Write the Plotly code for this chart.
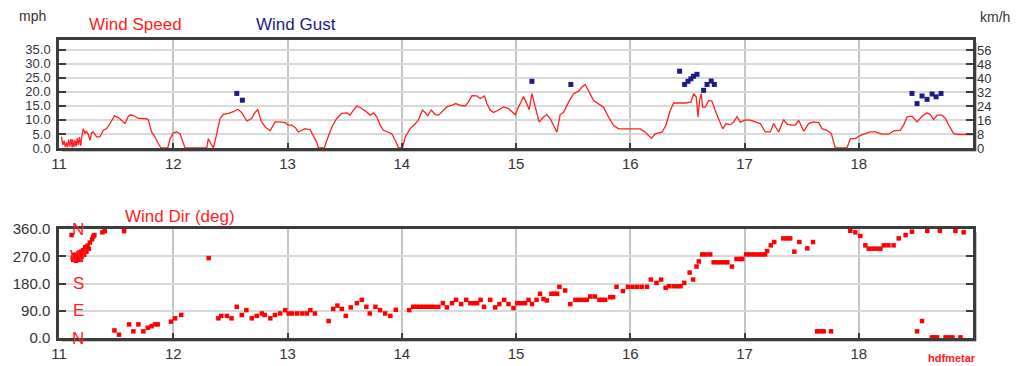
import plotly.graph_objects as go

# ---------------- data ----------------
speed_day = [11.02, 11.035, 11.045, 11.055, 11.065, 11.075, 11.085, 11.095, 11.105, 11.115, 11.12, 11.13, 11.14, 11.15,
             11.16, 11.17, 11.18, 11.19, 11.199, 11.213, 11.228, 11.24, 11.257, 11.271, 11.285, 11.30, 11.33, 11.359,
             11.388, 11.417, 11.447, 11.485, 11.52, 11.549, 11.578, 11.607, 11.63, 11.665, 11.695, 11.768, 11.782,
             11.81, 11.84, 11.87, 11.893, 11.952, 11.972, 12.001, 12.03, 12.06, 12.089, 12.103, 12.293, 12.307,
             12.331, 12.351, 12.381, 12.41, 12.439, 12.483, 12.527, 12.565, 12.6, 12.644, 12.687, 12.71, 12.74,
             12.769, 12.804, 12.848, 12.891, 12.935, 12.979, 13.008, 13.037, 13.067, 13.096, 13.125, 13.154, 13.198,
             13.227, 13.256, 13.271, 13.323, 13.344, 13.388, 13.431, 13.475, 13.519, 13.548, 13.577, 13.607, 13.636,
             13.68, 13.723, 13.753, 13.782, 13.811, 13.84, 13.884, 13.913, 13.957, 13.971, 14.006, 14.03, 14.074,
             14.117, 14.147, 14.182, 14.205, 14.228, 14.258, 14.293, 14.322, 14.351, 14.395, 14.438, 14.473, 14.511,
             14.555, 14.584, 14.614, 14.657, 14.687, 14.724, 14.745, 14.774, 14.803, 14.847, 14.891, 14.935, 14.964,
             14.993, 15.022, 15.066, 15.095, 15.116, 15.139, 15.168, 15.203, 15.241, 15.27, 15.3, 15.329, 15.358,
             15.387, 15.416, 15.46, 15.504, 15.548, 15.577, 15.606, 15.635, 15.679, 15.723, 15.766, 15.81, 15.854,
             15.898, 16.088, 16.131, 16.184, 16.219, 16.277, 16.312, 16.35, 16.38, 16.482, 16.531, 16.555, 16.578,
             16.593, 16.607, 16.622, 16.633, 16.657, 16.686, 16.715, 16.744, 16.779, 16.809, 16.838, 16.876, 16.905,
             16.934, 16.963, 17.007, 17.051, 17.095, 17.138, 17.182, 17.226, 17.255, 17.299, 17.343, 17.372, 17.416,
             17.445, 17.474, 17.518, 17.562, 17.605, 17.649, 17.678, 17.722, 17.76, 17.78, 17.795, 17.897, 17.926,
             17.97, 18.014, 18.058, 18.102, 18.145, 18.204, 18.262, 18.306, 18.364, 18.393, 18.423, 18.466, 18.51,
             18.554, 18.598, 18.627, 18.656, 18.685, 18.729, 18.758, 18.788, 18.831, 18.875, 18.977, 19.0]
speed_mph = [4.0, 1.0, 2.6, 0.3, 2.0, 0.2, 3.0, 0.5, 3.2, 0.2, 3.0, 0.3, 2.8, 0.5,
             3.5, 1.0, 3.9, 0.8, 3.9, 6.9, 5.1, 6.0, 4.8, 2.7, 5.4, 5.7, 3.9, 4.0,
             6.3, 6.9, 8.7, 11.4, 10.8, 9.9, 8.7, 11.3, 11.8, 11.3, 10.5, 10.4, 10.0,
             5.7, 3.9, 1.5, 0.0, 0.0, 3.3, 5.4, 5.7, 5.1, 1.5, 0.0, 0.0, 3.3,
             1.5, 0.0, 5.1, 10.5, 12.0, 12.3, 12.9, 13.8, 12.6, 9.6, 10.5, 12.3, 13.7,
             9.6, 7.5, 6.1, 9.3, 9.3, 9.0, 8.1, 8.1, 7.3, 5.7, 6.3, 6.9, 6.5,
             4.5, 2.1, 0.0, 0.0, 2.7, 7.5, 10.5, 12.3, 12.5, 11.7, 13.5, 14.9, 14.4,
             13.2, 11.7, 12.5, 11.1, 8.1, 6.3, 5.7, 5.1, 1.5, 0.0, 0.0, 3.9, 6.9,
             8.5, 10.1, 13.5, 12.6, 11.4, 13.5, 11.9, 11.7, 12.9, 14.6, 15.2, 15.8, 15.2,
             14.9, 16.4, 18.6, 18.5, 17.6, 18.5, 15.8, 13.5, 12.6, 13.5, 14.6, 14.0, 12.9,
             11.8, 14.5, 18.3, 15.7, 13.6, 19.3, 14.5, 9.2, 11.0, 11.9, 10.4, 8.0, 5.6,
             11.9, 12.7, 16.3, 19.3, 20.2, 21.7, 22.6, 20.2, 16.9, 15.7, 14.5, 11.0, 8.0,
             6.8, 6.8, 5.6, 3.5, 5.0, 5.6, 8.0, 13.3, 16.0, 16.0, 16.3, 19.3, 18.1,
             11.0, 17.0, 19.3, 14.5, 14.5, 16.9, 16.7, 13.3, 9.8, 6.8, 8.6, 8.3, 9.2,
             11.2, 9.2, 10.0, 9.9, 9.3, 8.7, 5.7, 5.7, 8.7, 5.7, 10.1, 8.5, 8.1,
             8.1, 9.9, 6.0, 8.7, 9.3, 9.0, 6.9, 6.3, 5.1, 2.1, 0.0, 0.0, 3.3,
             3.3, 4.5, 5.1, 5.7, 5.7, 4.9, 4.9, 6.1, 6.3, 8.1, 11.1, 11.3, 9.3,
             11.3, 12.5, 11.9, 10.1, 11.7, 11.7, 10.5, 8.1, 5.1, 4.8, 4.8, 4.8]

gust_day = [12.556, 12.605, 15.139, 15.48, 16.432, 16.476, 16.505, 16.531, 16.554, 16.584, 16.642, 16.672,
            16.709, 16.736, 18.466, 18.51, 18.554, 18.598, 18.642, 18.677, 18.72]
gust_mph = [19.4, 17.0, 23.7, 22.6, 27.3, 22.6, 23.7, 24.6, 25.5, 26.2, 20.5, 22.6,
            23.8, 22.6, 19.4, 15.8, 18.5, 17.3, 19.2, 18.2, 19.4]

dir_day = [11.11, 11.12, 11.125, 11.13, 11.14, 11.15, 11.155, 11.16, 11.17, 11.18, 11.19, 11.195, 11.20, 11.21,
           11.22, 11.23, 11.24, 11.25, 11.26, 11.27, 11.29, 11.30, 11.31, 11.38, 11.40, 11.57,
           11.485, 11.525, 11.613, 11.651, 11.695, 11.738, 11.777, 11.81, 11.84, 11.864, 11.98, 12.016, 12.07,
           12.31, 12.395, 12.42, 12.47, 12.51, 12.556, 12.6, 12.64, 12.687, 12.73, 12.775, 12.8, 12.85, 12.89,
           12.935, 12.98, 13.01, 13.04, 13.085, 13.13, 13.17, 13.2, 13.24, 13.36, 13.40, 13.437, 13.475, 13.51,
           13.554, 13.607, 13.65, 13.69, 13.72, 13.77, 13.81, 13.855, 13.9, 13.948,
           14.065, 14.10, 14.13, 14.16, 14.19, 14.22, 14.25, 14.28, 14.32, 14.36, 14.395, 14.44, 14.476, 14.52,
           14.564, 14.6, 14.63, 14.66, 14.69, 14.72, 14.774, 14.818, 14.855, 14.897, 14.934, 14.978, 15.01,
           15.045, 15.08, 15.11, 15.14, 15.18, 15.21, 15.24, 15.27, 15.31, 15.335, 15.36, 15.38, 15.43, 15.475,
           15.52, 15.55, 15.585, 15.62, 15.65, 15.69, 15.73, 15.755, 15.78, 15.825, 15.85, 15.88, 15.936, 15.98,
           16.02, 16.06, 16.10, 16.146, 16.18, 16.23, 16.27, 16.31, 16.34, 16.38, 16.41, 16.44, 16.473, 16.52,
           16.55, 16.58, 16.60, 16.63, 16.66, 16.70, 16.73, 16.76, 16.79, 16.82, 16.85, 16.89, 16.93, 16.96,
           16.98, 17.015, 17.05, 17.085, 17.12, 17.15, 17.18, 17.197, 17.23, 17.26, 17.34, 17.37, 17.40, 17.436,
           17.48, 17.55, 17.60, 17.635, 17.665, 17.693, 17.757, 17.926, 17.97, 18.014, 18.058, 18.087, 18.12,
           18.155, 18.19, 18.22, 18.26, 18.305, 18.35, 18.41, 18.466, 18.51, 18.554, 18.60, 18.64, 18.665,
           18.685, 18.71, 18.76, 18.79, 18.82, 18.846, 18.89, 18.918]
dir_deg = [340, 265, 258, 275, 262, 255, 270, 260, 280, 265, 258, 285, 270, 290,
           275, 300, 285, 305, 295, 315, 326, 335, 340, 349, 353, 353,
           25, 11, 45, 22, 45, 22, 34, 39, 45, 45, 54, 65, 76,
           264, 65, 73, 73, 65, 103, 76, 92, 65, 73, 81, 76, 65, 76,
           81, 92, 81, 81, 81, 81, 81, 92, 81, 56, 96, 107, 96, 73,
           101, 115, 126, 103, 81, 103, 92, 81, 73, 93,
           92, 103, 103, 103, 103, 103, 103, 103, 103, 115, 101, 115, 126, 112,
           126, 115, 115, 115, 126, 103, 126, 101, 112, 126, 112, 99, 115,
           115, 115, 126, 112, 126, 146, 129, 124, 146, 146, 146, 169, 157, 112,
           126, 126, 126, 126, 137, 137, 126, 126, 126, 135, 135, 169, 155, 169,
           169, 169, 169, 169, 193, 182, 193, 166, 171, 171, 171, 171, 182, 216,
           193, 236, 253, 276, 276, 276, 250, 250, 250, 250, 250, 236, 261, 261,
           261, 276, 276, 276, 276, 276, 276, 287, 306, 317, 329, 329, 329, 285,
           317, 296, 317, 22, 22, 22, 22, 354, 349, 337, 306, 295, 295,
           295, 295, 306, 306, 306, 329, 340, 351, 22, 56, 354, 2, 2,
           2, 354, 2, 2, 2, 354, 2, 349]

day_ticks = [11, 12, 13, 14, 15, 16, 17, 18]
mph_ticks = [0, 5, 10, 15, 20, 25, 30, 35]
kmh_ticks = [0, 8, 16, 24, 32, 40, 48, 56]
deg_ticks = [0, 90, 180, 270, 360]
compass = ["N", "E", "S", "W", "N"]

# ---------------- layout geometry ----------------
W, H = 1020, 366
L, R = 59, 973
T1, B1 = 40, 148
T2, B2 = 229, 338
MPH_MAX = 38.4
KMH = 1.609344

def px(x):
    return x / W

def py(y):
    return 1 - y / H

RED = "#ff2020"
NAVY = "#1c1c82"
TXT = "#333333"
FONT = "Liberation Sans"
GRID = "#d8d8d8"
VGRID = "#c4c4c4"
FRAME = "#3c3c3c"

fig = go.Figure()
fig.add_trace(go.Scatter(x=speed_day, y=speed_mph, mode="lines", line=dict(color=RED, width=1.3),
                         xaxis="x", yaxis="y", hoverinfo="skip"))
fig.add_trace(go.Scatter(x=gust_day, y=gust_mph, mode="markers",
                         marker=dict(symbol="square", size=5, color=NAVY),
                         xaxis="x", yaxis="y"))
fig.add_trace(go.Scatter(x=dir_day, y=dir_deg, mode="markers",
                         marker=dict(symbol="square", size=4.5, color="#ff0000"),
                         xaxis="x2", yaxis="y3"))
# invisible traces to activate overlay axes
fig.add_trace(go.Scatter(x=[11], y=[0], mode="markers", marker=dict(opacity=0), xaxis="x", yaxis="y2",
                         hoverinfo="skip"))
fig.add_trace(go.Scatter(x=[11], y=[0], mode="markers", marker=dict(opacity=0), xaxis="x2", yaxis="y4",
                         hoverinfo="skip"))

tickfont = dict(family=FONT, size=15, color=TXT)
ytickfont = dict(family=FONT, size=13, color=TXT)
xcommon = dict(range=[11, 19], tickvals=day_ticks, ticktext=[str(d) for d in day_ticks],
               showgrid=True, gridcolor=VGRID, gridwidth=1.5, zeroline=False,
               showline=True, linecolor=FRAME, linewidth=2.5, mirror=True,
               ticks="inside", ticklen=5, tickwidth=2, tickcolor=FRAME, tickfont=tickfont,
               domain=[px(L), px(R)], automargin=False)

fig.update_layout(
    width=W, height=H, margin=dict(l=0, r=0, t=0, b=0, autoexpand=False),
    paper_bgcolor="white", plot_bgcolor="white", showlegend=False,
    xaxis=dict(anchor="y", **xcommon),
    xaxis2=dict(anchor="y3", **xcommon),
    yaxis=dict(domain=[py(B1), py(T1)], range=[0, MPH_MAX], tickvals=mph_ticks,
               ticktext=[f"{v:.1f}" for v in mph_ticks], showgrid=True, gridcolor=GRID, gridwidth=2,
               zeroline=False, showline=True, linecolor=FRAME, linewidth=2.5, mirror=True,
               ticks="inside", ticklen=7, tickwidth=2, tickcolor=FRAME, tickfont=ytickfont,
               ticklabelstandoff=3, anchor="x", automargin=False),
    yaxis2=dict(domain=[py(B1), py(T1)], range=[0, MPH_MAX * KMH], tickvals=kmh_ticks,
                ticktext=[str(v) for v in kmh_ticks], overlaying="y", side="right", anchor="x",
                showgrid=False, zeroline=False, ticks="inside", ticklen=7, tickwidth=2,
                tickcolor=FRAME, tickfont=ytickfont, ticklabelstandoff=3, automargin=False),
    yaxis3=dict(domain=[py(B2), py(T2)], range=[0, 360], tickvals=deg_ticks,
                ticktext=[f"{v:.1f}" for v in deg_ticks], showgrid=True, gridcolor=GRID, gridwidth=2,
                zeroline=False, showline=True, linecolor=FRAME, linewidth=2.5, mirror=True,
                ticks="inside", ticklen=7, tickwidth=2, tickcolor=FRAME, tickfont=tickfont,
                ticklabelstandoff=3, anchor="x2", automargin=False),
    yaxis4=dict(domain=[py(B2), py(T2)], range=[0, 360], tickvals=deg_ticks, overlaying="y3",
                side="right", anchor="x2", showgrid=False, zeroline=False, showticklabels=False,
                ticks="inside", ticklen=7, tickwidth=2, tickcolor=FRAME, automargin=False),
)

# shadows under frames
shapes = []
for (t, b) in [(T1, B1), (T2, B2)]:
    shapes.append(dict(type="line", xref="paper", yref="paper", x0=px(L + 3), x1=px(R + 3),
                       y0=py(b + 3), y1=py(b + 3), line=dict(color="#c4c4c4", width=2), layer="below"))
    shapes.append(dict(type="line", xref="paper", yref="paper", x0=px(R + 3), x1=px(R + 3),
                       y0=py(t + 3), y1=py(b + 3), line=dict(color="#c4c4c4", width=2), layer="below"))
fig.update_layout(shapes=shapes)

ann = [
    dict(text="mph", x=px(32), y=py(16), font=dict(family=FONT, size=14, color=TXT)),
    dict(text="Wind Speed", x=px(135), y=py(25), font=dict(family=FONT, size=17, color=RED)),
    dict(text="Wind Gust", x=px(296), y=py(25), font=dict(family=FONT, size=17, color=NAVY)),
    dict(text="km/h", x=px(995), y=py(17), font=dict(family=FONT, size=14, color=TXT)),
    dict(text="Wind Dir (deg)", x=px(180), y=py(216), font=dict(family=FONT, size=17, color=RED)),
    dict(text="<b>hdfmetar</b>", x=px(952), y=py(358), font=dict(family=FONT, size=11, color=RED)),
]
for a in ann:
    a.update(xref="paper", yref="paper", showarrow=False, xanchor="center", yanchor="middle")
    fig.add_annotation(**a)
for v, lab in zip(deg_ticks, compass):
    fig.add_annotation(text=lab, x=px(78), xref="paper", y=v, yref="y3", showarrow=False,
                       xanchor="center", yanchor="middle", font=dict(family=FONT, size=17, color=RED))

fig.write_html("out.html", config={"displayModeBar": False},
               post_script="document.body.style.margin='0';document.body.style.overflow='hidden';")
